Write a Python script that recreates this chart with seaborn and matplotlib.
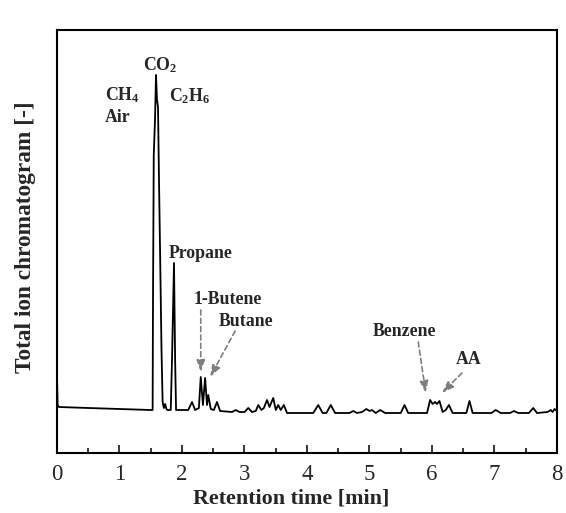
#! /usr/bin/env python
'''
Total ion chromatogram vs. retention time
'''
# imports
from matplotlib import rcParams
from matplotlib.ticker import MultipleLocator
import matplotlib.pyplot as plt
import numpy as np
import pandas as pd
import seaborn as sns

# settings
sns.set_style("ticks")
rcParams['font.family'] = ['Liberation Serif', 'DejaVu Serif']
rcParams['mathtext.fontset'] = 'custom'
rcParams['mathtext.rm'] = 'Liberation Serif:bold'
rcParams['mathtext.it'] = 'Liberation Serif:bold'
rcParams['mathtext.bf'] = 'Liberation Serif:bold'

# DATA (arbitrary intensity units)
time = [0.0, 0.01, 0.03, 0.5, 1.0, 1.5,
        1.53, 1.536, 1.548, 1.568, 1.584, 1.60, 1.616, 1.632, 1.656, 1.672, 1.69, 1.71, 1.73, 1.75, 1.77,
        1.82, 1.84, 1.872, 1.89, 1.905,
        2.10, 2.16, 2.21, 2.27, 2.30, 2.335, 2.37, 2.40, 2.42, 2.46, 2.51, 2.56, 2.61,
        2.80, 2.86, 2.92, 3.00, 3.06, 3.12, 3.18, 3.22, 3.27, 3.31, 3.36, 3.40, 3.46, 3.50, 3.54, 3.58, 3.63, 3.68,
        4.10, 4.18, 4.25, 4.31, 4.38, 4.45, 4.68, 4.74, 4.80, 4.88, 4.95, 5.00, 5.04, 5.10, 5.17, 5.25,
        5.50, 5.56, 5.62, 5.92, 5.97, 6.01, 6.05, 6.08, 6.12, 6.17, 6.22, 6.27, 6.33,
        6.55, 6.60, 6.65, 6.95, 7.02, 7.10, 7.25, 7.31, 7.38, 7.55, 7.62, 7.68, 7.85, 7.90, 7.93, 7.96, 8.0]
signal = [78, 48, 46, 45, 44, 43,
          43, 153, 298, 333, 378, 353, 346, 273, 173, 103, 51, 45, 49, 44, 43,
          43, 93, 190, 93, 43,
          43, 51, 43, 45, 76, 48, 75, 48, 58, 44, 43, 51, 42,
          41, 43, 41, 41, 45, 41, 42, 48, 43, 45, 53, 46, 55, 43, 48, 43, 48, 40,
          40, 48, 40, 40, 48, 40, 40, 42, 40, 41, 44, 42, 43, 40, 43, 40,
          40, 48, 40, 40, 53, 49, 51, 49, 52, 41, 43, 48, 40,
          40, 52, 40, 40, 43, 40, 40, 42, 40, 40, 45, 40, 41, 43, 41, 44, 42]

# peak labels: text, x, y (left edge, vertical centre)
labels = ['CO$_2$', 'CH$_4$', 'Air', 'C$_2$H$_6$', 'Propane', '1-Butene', 'Butane', 'Benzene', 'AA']
label_x = [1.37, 0.77, 0.77, 1.79, 1.79, 2.19, 2.59, 5.06, 6.38]
label_y = [388, 358, 335, 357, 199, 154, 131, 121, 93]

# arrows: tail -> head
arrow_tail = [(2.30, 143), (2.85, 122), (5.78, 111), (6.48, 80)]
arrow_head = [(2.30, 81), (2.45, 76), (5.90, 60), (6.16, 60)]

df = pd.DataFrame({'time': time, 'signal': signal})

fig = plt.figure(figsize=(5.66, 5.13), dpi=100)
ax = fig.add_axes([57/566, 60/513, 500/566, 423/513])
sns.lineplot(x='time', y='signal', data=df, color='black', linewidth=1.3, ax=ax)

for txt, x, y in zip(labels, label_x, label_y):
    ax.text(x, y, txt, fontsize=12.8, fontweight='bold', ha='left', va='center')

for tail, head in zip(arrow_tail, arrow_head):
    ax.annotate('', xy=head, xytext=tail,
                arrowprops=dict(arrowstyle='-|>,head_length=0.7,head_width=0.25', linestyle=(0, (3, 2)),
                                color='#7f7f7f', lw=1.2, shrinkA=0, shrinkB=0))

ax.set_xlim(0, 8)
ax.set_ylim(0, 423)
ax.xaxis.set_major_locator(MultipleLocator(1))
ax.xaxis.set_minor_locator(MultipleLocator(0.5))
ax.tick_params(axis='x', which='major', direction='in', length=6, width=1.3, labelsize=16.5, pad=8)
ax.tick_params(axis='x', which='minor', direction='in', length=3.5, width=1.3)
ax.set_yticks([])
for s in ax.spines.values():
    s.set_visible(True)
    s.set_linewidth(1.5)
    s.set_color('black')
ax.set_xlabel('Retention time [min]', fontsize=15.8, fontweight='bold', labelpad=0)
ax.xaxis.set_label_coords(0.468, -0.085)
ax.set_ylabel('Total ion chromatogram [-]', fontsize=16.8, fontweight='bold')
ax.yaxis.set_label_coords(-0.042, 0.51)

fig.savefig('out.png', dpi=100)
plt.close()
